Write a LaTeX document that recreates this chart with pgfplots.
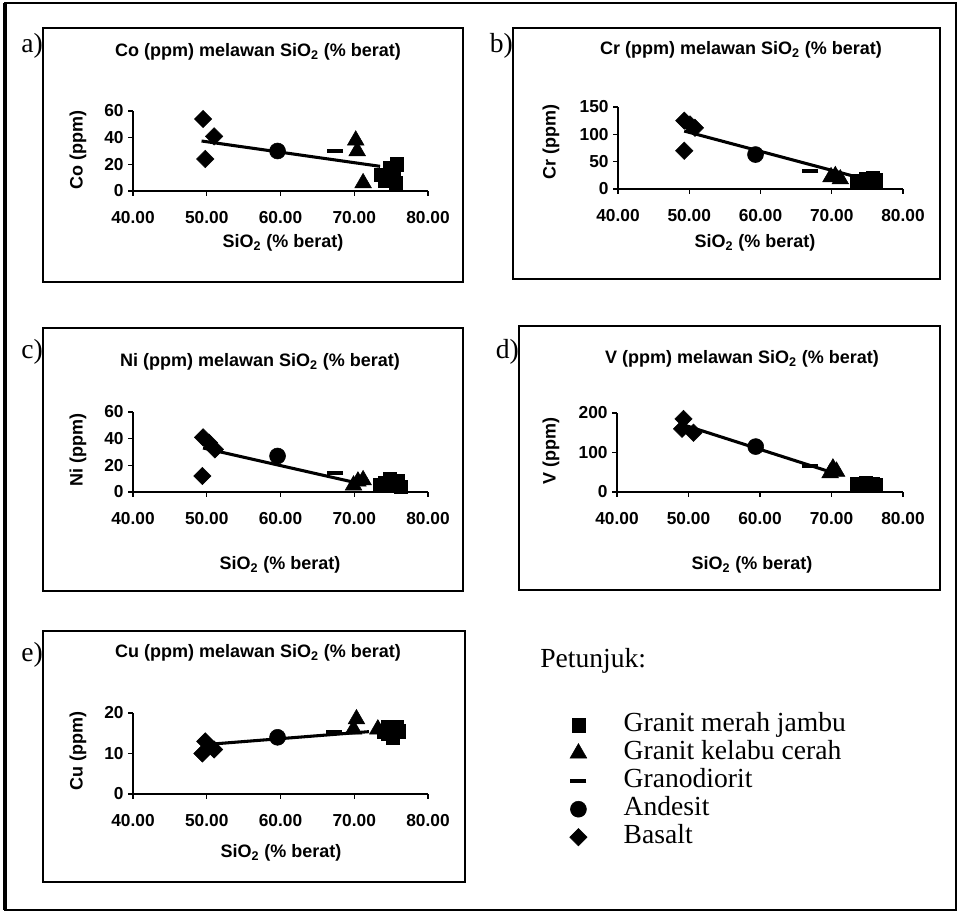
\documentclass[border=0pt]{standalone}
\usepackage{pgfplots}
\pgfplotsset{compat=1.18}
\usepackage{fontspec}
\setmainfont{Liberation Serif}
\newfontfamily\arialfont{Liberation Sans}
\newcommand{\tfont}{\arialfont\bfseries\fontsize{13.5}{15}\selectfont}
\newcommand{\kfont}{\fontsize{20.7}{24}\selectfont}
\pgfplotsset{
  panel/.style={
    scale only axis, anchor=south west,
    xmin=40, xmax=80, ymin=0,
    axis x line=bottom, axis y line=left,
    axis line style={line width=1.1pt,-},
    xtick={40,50,60,70,80},
    xticklabels={40.00,50.00,60.00,70.00,80.00},
    tick align=outside, major tick length=3.5pt,
    tick style={line width=0.9pt,black},
    ticklabel style={font=\arialfont\bfseries\fontsize{13}{15}\selectfont},
    xticklabel style={yshift=-8pt},
    /pgf/number format/assume math mode=true,
    clip=false,
  },
  sq/.style={only marks, mark=square*, mark size=5pt, mark options={fill=black,draw=black}},
  tri/.style={only marks, mark=triangle*, mark size=7.2pt, mark options={fill=black,draw=black}},
  dsh/.style={only marks, mark=-, mark size=6pt, mark options={line width=3pt,draw=black}},
  cir/.style={only marks, mark=*, mark size=6pt, mark options={fill=black,draw=black}},
  dia/.style={only marks, mark=square*, mark size=4.6pt, mark options={rotate=45, fill=black,draw=black}},
  trend/.style={no marks, line width=2.3pt, black, forget plot},
}
\begin{document}
\begin{tikzpicture}
% ---------- frames and texts (pixel units) ----------
\begin{scope}[x=0.75pt,y=-0.75pt]
  \draw[line width=1.2pt] (5,3) rectangle (956,910);
  \draw[line width=3pt] (5,3) -- (5,910);
  \draw[line width=0.8pt] (43,28) rectangle (463,282);
  \draw[line width=0.8pt] (513,28) rectangle (940,279);
  \draw[line width=0.8pt] (43,328) rectangle (463,591);
  \draw[line width=0.8pt] (519,326) rectangle (940,590);
  \draw[line width=0.8pt] (43,631) rectangle (465,882);
  % panel letters
  \node[font=\kfont, anchor=east, inner sep=0pt] at (43,46) {a)};
  \node[font=\kfont, anchor=east, inner sep=0pt] at (513,46) {b)};
  \node[font=\kfont, anchor=east, inner sep=0pt] at (43,352) {c)};
  \node[font=\kfont, anchor=east, inner sep=0pt] at (519,352) {d)};
  \node[font=\kfont, anchor=east, inner sep=0pt] at (43,655) {e)};
  % titles
  \node[font=\tfont] at (258,52) {Co (ppm) melawan SiO\textsubscript{2} (\% berat)};
  \node[font=\tfont] at (741,50) {Cr (ppm) melawan SiO\textsubscript{2} (\% berat)};
  \node[font=\tfont] at (260,362) {Ni (ppm) melawan SiO\textsubscript{2} (\% berat)};
  \node[font=\tfont] at (742,359) {V (ppm) melawan SiO\textsubscript{2} (\% berat)};
  \node[font=\tfont] at (258,653) {Cu (ppm) melawan SiO\textsubscript{2} (\% berat)};
  % x labels
  \node[font=\tfont] at (283,243) {SiO\textsubscript{2} (\% berat)};
  \node[font=\tfont] at (755,243) {SiO\textsubscript{2} (\% berat)};
  \node[font=\tfont] at (280,565) {SiO\textsubscript{2} (\% berat)};
  \node[font=\tfont] at (752,565) {SiO\textsubscript{2} (\% berat)};
  \node[font=\tfont] at (281,853) {SiO\textsubscript{2} (\% berat)};
  % y labels
  \node[font=\tfont, rotate=90] at (78,150) {Co (ppm)};
  \node[font=\tfont, rotate=90] at (551,142) {Cr (ppm)};
  \node[font=\tfont, rotate=90] at (78,450) {Ni (ppm)};
  \node[font=\tfont, rotate=90] at (551,451) {V (ppm)};
  \node[font=\tfont, rotate=90] at (78,751) {Cu (ppm)};
  % legend heading
  \node[font=\kfont, anchor=base west, inner sep=0pt] at (540,667) {Petunjuk:};
\end{scope}

% ---------- a) Co ----------
\begin{axis}[panel, at={(99.75pt,-143.25pt)}, width=221.25pt, height=60pt,
  ymax=60, ytick={0,20,40,60}]
  \addplot[trend] coordinates {(49.3,37.5) (73.5,18.5)};
  \addplot[sq] coordinates {(73.6,12) (74.2,8) (74.8,17) (75.3,13) (75.6,6) (75.8,20)};
  \addplot[tri] coordinates {(70.2,38) (70.4,30) (71.2,6)};
  \addplot[dsh] coordinates {(67.4,30)};
  \addplot[cir] coordinates {(59.6,30)};
  \addplot[dia] coordinates {(49.5,54) (49.8,24) (51.0,41)};
\end{axis}

% ---------- b) Cr ----------
\begin{axis}[panel, at={(463.5pt,-141.75pt)}, width=213.75pt, height=61.5pt,
  ymax=150, ytick={0,50,100,150}]
  \addplot[trend] coordinates {(49.3,106) (73.5,22)};
  \addplot[sq] coordinates {(73.5,15) (74.2,12) (74.8,18) (75.3,14) (75.8,20) (76.1,16)};
  \addplot[tri] coordinates {(69.9,22) (70.5,24) (71.2,18)};
  \addplot[dsh] coordinates {(67,33)};
  \addplot[cir] coordinates {(59.3,63)};
  \addplot[dia] coordinates {(49.3,125) (50.1,118) (50.8,112) (49.3,70)};
\end{axis}

% ---------- c) Ni ----------
\begin{axis}[panel, at={(99.75pt,-369pt)}, width=221.25pt, height=60pt,
  ymax=60, ytick={0,20,40,60}]
  \addplot[trend] coordinates {(49.5,33) (71,6)};
  \addplot[sq] coordinates {(73.5,5) (74.2,7) (74.8,10) (75.4,6) (75.9,8) (76.3,4)};
  \addplot[tri] coordinates {(69.9,5) (70.5,8) (71.2,9)};
  \addplot[dsh] coordinates {(67.4,14)};
  \addplot[cir] coordinates {(59.6,27)};
  \addplot[dia] coordinates {(49.5,41) (50.3,37) (51.1,32) (49.4,12)};
\end{axis}

% ---------- d) V ----------
\begin{axis}[panel, at={(462.75pt,-369pt)}, width=214.5pt, height=59.25pt,
  ymax=200, ytick={0,100,200}]
  \addplot[trend] coordinates {(49.3,170) (70.5,47)};
  \addplot[sq] coordinates {(73.5,20) (74.2,16) (74.8,22) (75.3,15) (75.8,20) (76.2,17)};
  \addplot[tri] coordinates {(69.8,48) (70.2,60) (70.7,52)};
  \addplot[dsh] coordinates {(67,65)};
  \addplot[cir] coordinates {(59.4,115)};
  \addplot[dia] coordinates {(49.3,185) (49.1,160) (50.7,150)};
\end{axis}

% ---------- e) Cu (carries the legend) ----------
\begin{axis}[panel, at={(99.75pt,-595.5pt)}, width=221.25pt, height=60.75pt,
  ymax=20, ytick={0,10,20},
  legend cell align=left,
  legend style={at={(1.472,1.009)}, anchor=north west, draw=none, fill=none,
    inner sep=0pt, font=\kfont, row sep=2pt,
    nodes={inner sep=0pt, text height=14pt, text depth=5pt}},
  legend image code/.code={\path (-8pt,0pt) (33.75pt,0pt); \draw[#1] plot coordinates {(0pt,0pt)};}]
  \addplot[trend] coordinates {(49.8,12.2) (72,15.4)};
  \addplot[sq] coordinates {(74.0,15.5) (74.6,16.5) (75.2,14) (75.7,16.5) (76.0,15.5) (74.5,15)};
  \addlegendentry{Granit merah jambu}
  \addplot[tri] coordinates {(70.3,18.5) (69.9,16) (73.2,16)};
  \addlegendentry{Granit kelabu cerah}
  \addplot[dsh] coordinates {(67.2,15.2)};
  \addlegendentry{Granodiorit}
  \addplot[cir] coordinates {(59.6,14)};
  \addlegendentry{Andesit}
  \addplot[dia] coordinates {(49.8,13) (49.4,10) (51.0,11)};
  \addlegendentry{Basalt}
\end{axis}

\pgfresetboundingbox
\path[use as bounding box] (0pt,0pt) rectangle (719.25pt,-684.75pt);
\end{tikzpicture}
\end{document}
